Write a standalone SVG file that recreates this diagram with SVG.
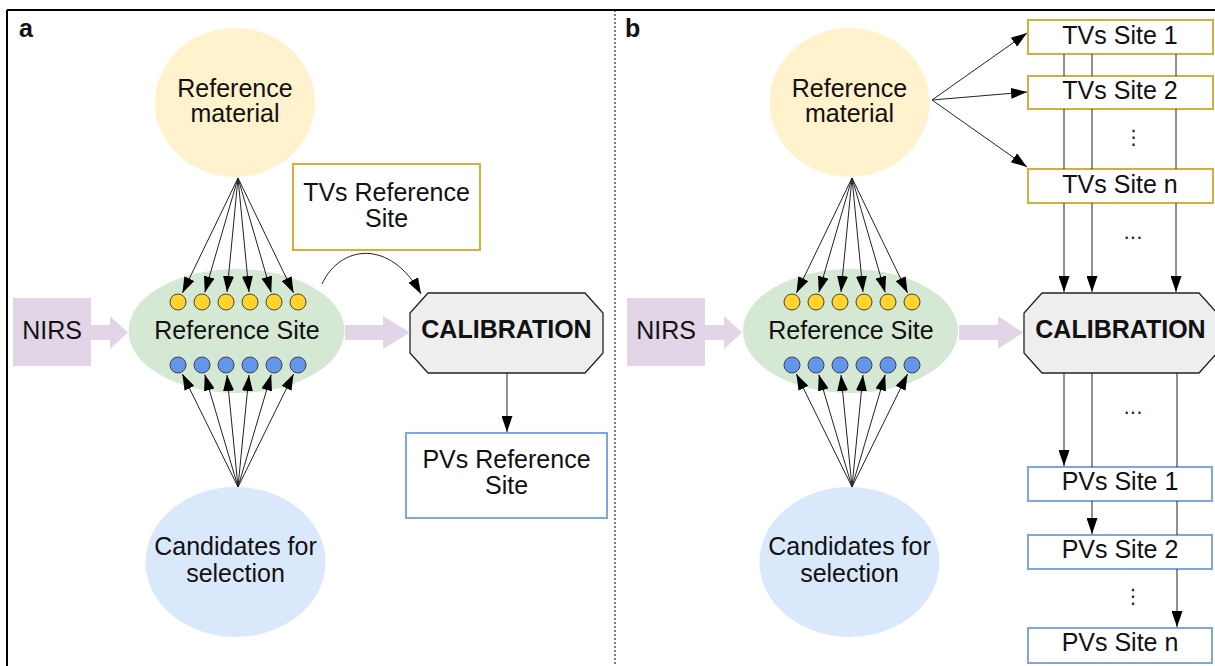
<svg xmlns="http://www.w3.org/2000/svg" width="1215" height="666" viewBox="0 0 1215 666">
<defs>
<marker id="ah" markerUnits="userSpaceOnUse" markerWidth="16" markerHeight="11" refX="16" refY="5.5" orient="auto" viewBox="0 0 16 11">
<path d="M0,0 L16,5.5 L0,11 z" fill="#000"/>
</marker>
<style>
text{font-family:"Liberation Sans",Arial,sans-serif;font-size:25px;fill:#111;text-anchor:middle}
.lbl{font-weight:bold;font-size:25px;text-anchor:start}
.bold{font-weight:bold}
.dots{font-family:"DejaVu Sans",sans-serif;font-size:20px;fill:#222}
.ln{fill:none;stroke:#222;stroke-width:1}
.arr{fill:none;stroke:#222;stroke-width:1;marker-end:url(#ah)}
.fat{fill:#e1d5e7}
.refmat{fill:#fff2cc}
.site{fill:#d5e8d4}
.cand{fill:#dae8fc}
.nirs{fill:#e1d5e7}
.yc{fill:#ffd42a;stroke:#444;stroke-width:1}
.bc{fill:#6495ed;stroke:#444;stroke-width:1}
.tv{fill:#fff;stroke:#d6ae3c;stroke-width:2}
.pv{fill:#fff;stroke:#7ea6e0;stroke-width:2}
.cal{fill:#eeeeee;stroke:#222;stroke-width:1.3}
</style>
</defs>
<rect x="0" y="0" width="1215" height="666" fill="#fff"/>
<g id="frame">
<line x1="7" y1="10" x2="1215" y2="10" stroke="#000" stroke-width="2"/>
<line x1="7" y1="10" x2="7" y2="666" stroke="#000" stroke-width="2"/>
<line x1="615" y1="10" x2="615" y2="666" stroke="#000" stroke-width="1" stroke-dasharray="2,2"/>
<text class="lbl" x="19" y="37">a</text>
<text class="lbl" x="625" y="37">b</text>
</g>

<!-- Panel a nodes -->
<g id="a-refmat"><ellipse class="refmat" cx="235" cy="102.5" rx="80" ry="74.5"/><text x="235" y="96.5">Reference</text><text x="235" y="122">material</text></g>
<g id="a-site"><ellipse class="site" cx="236.5" cy="331" rx="108" ry="62"/><text x="237" y="338.5">Reference Site</text>
<circle class="yc" cx="178" cy="302" r="8"/><circle class="yc" cx="202" cy="302" r="8"/><circle class="yc" cx="226" cy="302" r="8"/><circle class="yc" cx="250" cy="302" r="8"/><circle class="yc" cx="274" cy="302" r="8"/><circle class="yc" cx="298" cy="302" r="8"/>
<circle class="bc" cx="178" cy="365" r="8"/><circle class="bc" cx="202" cy="365" r="8"/><circle class="bc" cx="226" cy="365" r="8"/><circle class="bc" cx="250" cy="365" r="8"/><circle class="bc" cx="274" cy="365" r="8"/><circle class="bc" cx="298" cy="365" r="8"/></g>
<g id="a-cand"><ellipse class="cand" cx="235.5" cy="562" rx="90" ry="75"/><text x="235.5" y="555">Candidates for</text><text x="235.5" y="581.5">selection</text></g>
<g id="a-nirs"><rect class="nirs" x="13" y="298" width="78" height="68"/><text x="52" y="339">NIRS</text></g>
<g id="a-tvs"><rect class="tv" x="293" y="164" width="187" height="86"/><text x="386.5" y="201">TVs Reference</text><text x="386.5" y="227">Site</text></g>
<g id="a-cal"><polygon class="cal" points="428,293 585,293 603,313 603,353 585,373 428,373 410,353 410,313"/><text class="bold" x="506.5" y="338">CALIBRATION</text></g>
<g id="a-pvs"><rect class="pv" x="406" y="433" width="201" height="85"/><text x="506.5" y="468">PVs Reference</text><text x="506.5" y="494">Site</text></g>

<!-- Panel b nodes -->
<g id="b-refmat"><ellipse class="refmat" cx="849.5" cy="102.5" rx="80" ry="74.5"/><text x="849.5" y="96.5">Reference</text><text x="849.5" y="122">material</text></g>
<g id="b-site"><ellipse class="site" cx="850.5" cy="331" rx="107.5" ry="62"/><text x="851" y="338.5">Reference Site</text>
<circle class="yc" cx="792" cy="302" r="8"/><circle class="yc" cx="816" cy="302" r="8"/><circle class="yc" cx="840" cy="302" r="8"/><circle class="yc" cx="864" cy="302" r="8"/><circle class="yc" cx="888" cy="302" r="8"/><circle class="yc" cx="912" cy="302" r="8"/>
<circle class="bc" cx="792" cy="365" r="8"/><circle class="bc" cx="816" cy="365" r="8"/><circle class="bc" cx="840" cy="365" r="8"/><circle class="bc" cx="864" cy="365" r="8"/><circle class="bc" cx="888" cy="365" r="8"/><circle class="bc" cx="912" cy="365" r="8"/></g>
<g id="b-cand"><ellipse class="cand" cx="849.5" cy="562" rx="90" ry="75"/><text x="849.5" y="555">Candidates for</text><text x="849.5" y="581.5">selection</text></g>
<g id="b-nirs"><rect class="nirs" x="627" y="298" width="78" height="68"/><text x="666" y="339">NIRS</text></g>
<g id="b-cal"><polygon class="cal" points="1042,293 1199,293 1217,313 1217,353 1199,373 1042,373 1024,353 1024,313"/><text class="bold" x="1120.5" y="338">CALIBRATION</text></g>
<g id="b-tvs1"><rect class="tv" x="1028" y="20" width="185" height="34"/><text x="1120" y="43.5">TVs Site 1</text></g>
<g id="b-tvs2"><rect class="tv" x="1028" y="76" width="185" height="33"/><text x="1120" y="98.5">TVs Site 2</text></g>
<g id="b-tvsn"><rect class="tv" x="1028" y="169" width="185" height="34"/><text x="1120" y="192.5">TVs Site n</text></g>
<g id="b-pvs1"><rect class="pv" x="1028" y="467" width="184" height="34"/><text x="1120" y="489.5">PVs Site 1</text></g>
<g id="b-pvs2"><rect class="pv" x="1028" y="535" width="184" height="34"/><text x="1120" y="557.5">PVs Site 2</text></g>
<g id="b-pvsn"><rect class="pv" x="1028" y="628" width="184" height="35"/><text x="1120" y="651">PVs Site n</text></g>
<g id="b-dots">
<text class="dots" x="1133.5" y="144">⋮</text>
<text class="dots" x="1133" y="239">...</text>
<text class="dots" x="1133" y="414">...</text>
<text class="dots" x="1133" y="603">⋮</text>
</g>

<g id="connectors">
<!-- block arrows -->
<polygon class="fat" points="91,325 110,325 110,316 128,332.5 110,349 110,340 91,340"/>
<polygon class="fat" points="345,325 383,325 383,316 410,332.5 383,349 383,340 345,340"/>
<polygon class="fat" points="705,325 724,325 724,316 742,332.5 724,349 724,340 705,340"/>
<polygon class="fat" points="959,325 998,325 998,316 1023,332.5 998,349 998,340 959,340"/>
<!-- panel a fans -->
<path class="arr" d="M238,178 L182.4,293"/>
<path class="arr" d="M238,178 L204.8,292.4"/>
<path class="arr" d="M238,178 L227,292"/>
<path class="arr" d="M238,178 L249,292"/>
<path class="arr" d="M238,178 L271.2,292.4"/>
<path class="arr" d="M238,178 L293.6,293"/>
<path class="arr" d="M238,487 L182.4,374"/>
<path class="arr" d="M238,487 L204.8,374.6"/>
<path class="arr" d="M238,487 L227,375"/>
<path class="arr" d="M238,487 L249,375"/>
<path class="arr" d="M238,487 L271.2,374.6"/>
<path class="arr" d="M238,487 L293.6,374"/>
<path class="arr" d="M322,284 C340,245 390,238 421,294"/>
<path class="arr" d="M507,373 L507,432"/>
<!-- panel b fans -->
<path class="arr" d="M852,178 L796.4,293"/>
<path class="arr" d="M852,178 L818.8,292.4"/>
<path class="arr" d="M852,178 L841,292"/>
<path class="arr" d="M852,178 L863,292"/>
<path class="arr" d="M852,178 L885.2,292.4"/>
<path class="arr" d="M852,178 L907.6,293"/>
<path class="arr" d="M852,487 L796.4,374"/>
<path class="arr" d="M852,487 L818.8,374.6"/>
<path class="arr" d="M852,487 L841,375"/>
<path class="arr" d="M852,487 L863,375"/>
<path class="arr" d="M852,487 L885.2,374.6"/>
<path class="arr" d="M852,487 L907.6,374"/>
<!-- reference material to TVs -->
<path class="arr" d="M932,100 L1027,33"/>
<path class="arr" d="M932,100 L1027,92"/>
<path class="arr" d="M932,100 L1027,167"/>
<!-- TVs to calibration -->
<path class="ln" d="M1064,54 V76 M1064,109 V169"/>
<path class="arr" d="M1064,203 V292"/>
<path class="ln" d="M1092,54 V76 M1092,109 V169"/>
<path class="arr" d="M1092,203 V292"/>
<path class="ln" d="M1176,54 V76 M1176,109 V169"/>
<path class="arr" d="M1176,203 V292"/>
<!-- calibration to PVs -->
<path class="arr" d="M1064,373 V466"/>
<path class="ln" d="M1092,373 V467"/>
<path class="arr" d="M1092,501 V534"/>
<path class="ln" d="M1177,373 V467 M1177,501 V535"/>
<path class="arr" d="M1177,569 V627"/>
</g>
</svg>
